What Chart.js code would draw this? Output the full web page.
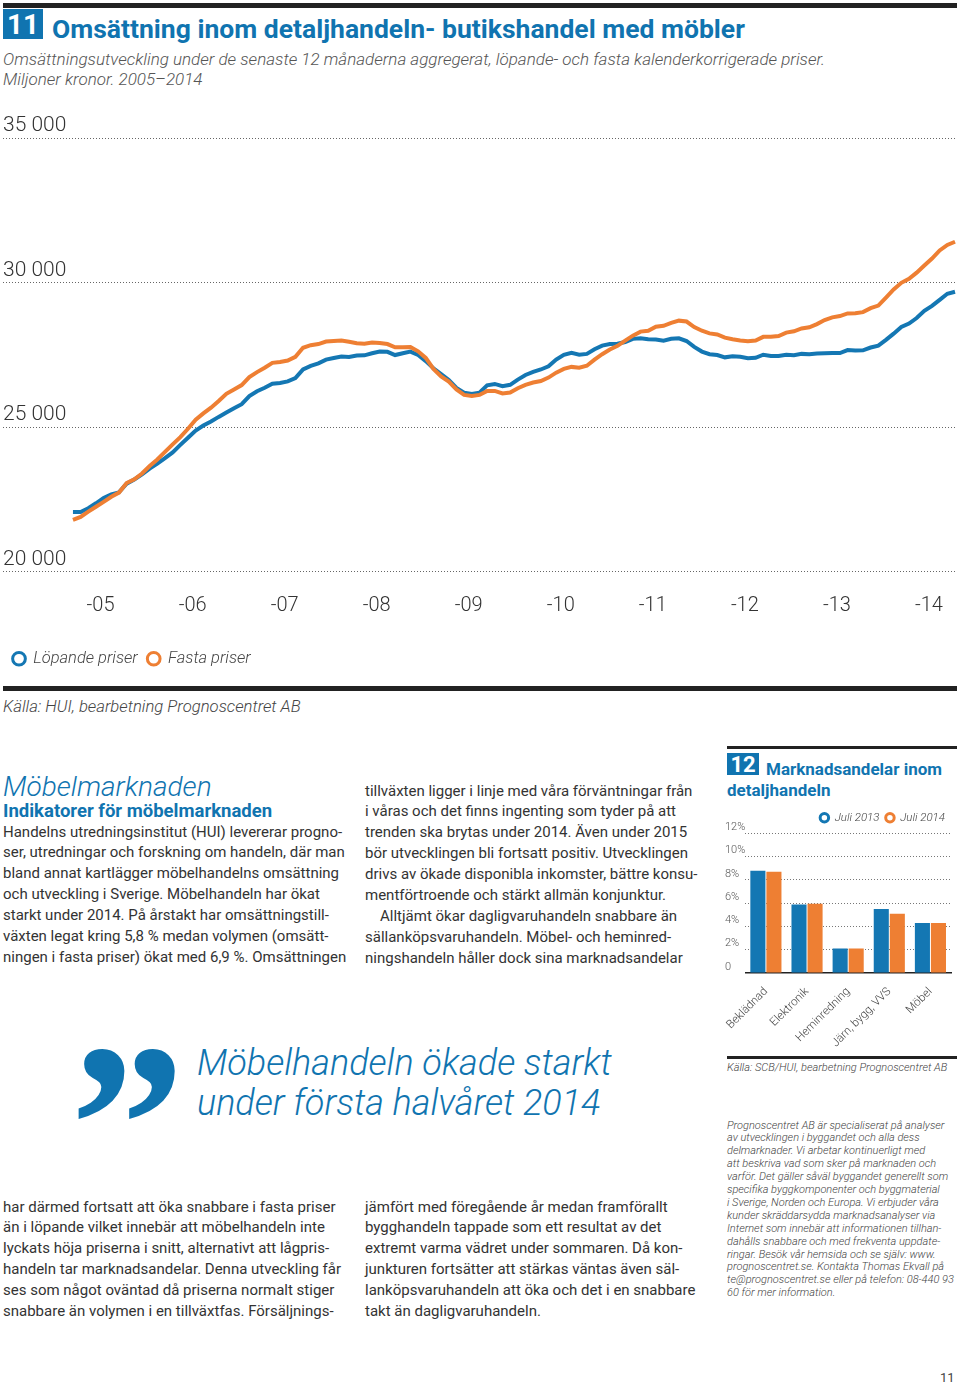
<!DOCTYPE html>
<html lang="sv">
<head>
<meta charset="utf-8">
<script src="https://cdn.jsdelivr.net/npm/chart.js@4.4.1/dist/chart.umd.min.js"></script>
<style>
body { margin: 0; background: #fff; }
#page { position: relative; width: 960px; height: 1384px; overflow: hidden; font-family: Roboto, "Open Sans", sans-serif; color: #333; }
.abs { position: absolute; white-space: nowrap; }
.rule { position: absolute; background: #222; }
.blue { color: #1074B0; }
.body { font-size: 15px; line-height: 20.9px; }
.it { font-style: italic; font-weight: 300; }
.box { position: absolute; background: #1074B0; color: #fff; font-weight: 700; text-align: center; }
</style>
</head>
<body>
<div id="page">

    <div class="rule" style="left:3px;top:3px;width:954px;height:5px"></div>
    <div class="box" style="left:3px;top:9px;width:40px;height:30px;font-size:28px;line-height:31px">11</div>
    <div class="abs blue" style="left:52px;top:14px;font-size:26.5px;line-height:30px;font-weight:700">Omsättning inom detaljhandeln- butikshandel med möbler</div>
    <div class="abs it" style="left:3px;top:49px;font-size:17px;line-height:20px;color:#555">Omsättningsutveckling under de senaste 12 månaderna aggregerat, löpande- och fasta kalenderkorrigerade priser.<br>Miljoner kronor. 2005–2014</div>

    <canvas id="chartOms" width="960" height="580" style="position:absolute;left:0;top:100px"></canvas>

    <div class="rule" style="left:3px;top:686px;width:954px;height:5px"></div>
    <div class="abs it" style="left:3px;top:697px;font-size:16.7px;line-height:20px;color:#444">Källa: HUI, bearbetning Prognoscentret AB</div>

    <div class="abs it blue" style="left:3px;top:771px;font-size:28px;line-height:32px">Möbelmarknaden</div>
    <div class="abs blue" style="left:3px;top:800px;font-size:18.5px;line-height:22px;font-weight:700">Indikatorer för möbelmarknaden</div>
    <div class="abs body" style="left:3px;top:821.5px">Handelns utredningsinstitut (HUI) levererar progno-<br>ser, utredningar och forskning om handeln, där man<br>bland annat kartlägger möbelhandelns omsättning<br>och utveckling i Sverige. Möbelhandeln har ökat<br>starkt under 2014. På årstakt har omsättningstill-<br>växten legat kring 5,8 % medan volymen (omsätt-<br>ningen i fasta priser) ökat med 6,9 %. Omsättningen</div>
    <div class="abs body" style="left:365px;top:780.5px">tillväxten ligger i linje med våra förväntningar från<br>i våras och det finns ingenting som tyder på att<br>trenden ska brytas under 2014. Även under 2015<br>bör utvecklingen bli fortsatt positiv. Utvecklingen<br>drivs av ökade disponibla inkomster, bättre konsu-<br>mentförtroende och stärkt allmän konjunktur.<br><span style="padding-left:15px">Alltjämt ökar dagligvaruhandeln snabbare än</span><br>sällanköpsvaruhandeln. Möbel- och heminred-<br>ningshandeln håller dock sina marknadsandelar</div>

    <div class="rule" style="left:727px;top:746px;width:230px;height:3px"></div>
    <div class="box" style="left:727px;top:753px;width:32px;height:22px;font-size:22px;line-height:23px">12</div>
    <div class="abs blue" style="left:766px;top:758px;font-size:17px;line-height:22px;font-weight:700">Marknadsandelar inom</div>
    <div class="abs blue" style="left:727px;top:779px;font-size:17px;line-height:22px;font-weight:700">detaljhandeln</div>
    <canvas id="chartAndel" width="240" height="254" style="position:absolute;left:720px;top:800px"></canvas>
    <div class="rule" style="left:727px;top:1056px;width:230px;height:3px"></div>
    <div class="abs it" style="left:727px;top:1061px;font-size:11px;line-height:14px;color:#444">Källa: SCB/HUI, bearbetning Prognoscentret AB</div>

    <div class="abs blue" style="left:70px;top:1011px;font-family:'Liberation Serif',serif;font-weight:700;font-size:230px;line-height:230px">”</div>
    <div class="abs it blue" style="left:197px;top:1043px;font-size:36px;line-height:40px">Möbelhandeln ökade starkt<br>under första halvåret 2014</div>

    <div class="abs body" style="left:3px;top:1196.5px">har därmed fortsatt att öka snabbare i fasta priser<br>än i löpande vilket innebär att möbelhandeln inte<br>lyckats höja priserna i snitt, alternativt att lågpris-<br>handeln tar marknadsandelar. Denna utveckling får<br>ses som något oväntad då priserna normalt stiger<br>snabbare än volymen i en tillväxtfas. Försäljnings-</div>
    <div class="abs body" style="left:365px;top:1196.5px">jämfört med föregående år medan framförallt<br>bygghandeln tappade som ett resultat av det<br>extremt varma vädret under sommaren. Då kon-<br>junkturen fortsätter att stärkas väntas även säl-<br>lanköpsvaruhandeln att öka och det i en snabbare<br>takt än dagligvaruhandeln.</div>

    <div class="abs it" style="left:727px;top:1119.5px;font-size:11px;line-height:12.9px;color:#444">Prognoscentret AB är specialiserat på analyser<br>av utvecklingen i byggandet och alla dess<br>delmarknader. Vi arbetar kontinuerligt med<br>att beskriva vad som sker på marknaden och<br>varför. Det gäller såväl byggandet generellt som<br>specifika byggkomponenter och byggmaterial<br>i Sverige, Norden och Europa. Vi erbjuder våra<br>kunder skräddarsydda marknadsanalyser via<br>Internet som innebär att informationen tillhan-<br>dahålls snabbare och med frekventa uppdate-<br>ringar. Besök vår hemsida och se själv: www.<br>prognoscentret.se. Kontakta Thomas Ekvall på<br>te@prognoscentret.se eller på telefon: 08-440 93<br>60 för mer information.</div>

    <div class="abs" style="left:940px;top:1370px;font-size:13px;line-height:16px;color:#444">11</div>
</div>

<script>
/* ---- diagram 11: omsättning, miljoner kronor, rullande 12 mån ---- */

const years = [2005, 2006, 2007, 2008, 2009, 2010, 2011, 2012, 2013, 2014];

// första månaden i serien, i decimalår
const startYear = 2004.7;

const lopandePriser = [
    22055, 22055, 22190, 22360, 22540, 22670, 22740, 23040, 23185, 23360,
    23560, 23730, 23920, 24120, 24380, 24630, 24880, 25050, 25190, 25350,
    25500, 25650, 25790, 26070, 26235, 26360, 26500, 26525, 26580, 26690,
    26990, 27115, 27200, 27330, 27390, 27440, 27420, 27470, 27480, 27550,
    27610, 27600, 27490, 27550, 27610, 27490, 27280, 27030, 26830, 26630,
    26350, 26190, 26140, 26190, 26440, 26490, 26410, 26460, 26640, 26800,
    26910, 26990, 27100, 27335, 27500, 27570, 27500, 27530, 27690, 27815,
    27870, 27880, 27940, 28050, 28070, 28035, 28030, 27985, 28050, 28070,
    27975, 27770, 27610, 27520, 27490, 27410, 27445, 27430, 27380, 27395,
    27500, 27460, 27455, 27500, 27485, 27530, 27515, 27540, 27550, 27560,
    27560, 27660, 27650, 27655, 27750, 27815, 28015, 28230, 28460, 28580,
    28770, 29020, 29190, 29400, 29610, 29680
];

const fastaPriser = [
    21790, 21890, 22070, 22240, 22410, 22585, 22730, 23060, 23190, 23390,
    23650, 23875, 24140, 24400, 24650, 24940, 25250, 25470, 25670, 25900,
    26150, 26300, 26450, 26730, 26900, 27050, 27220, 27250, 27300, 27430,
    27740, 27830, 27870, 27955, 27975, 27995, 27950, 27900, 27880, 27920,
    27910, 27870, 27760, 27760, 27770, 27620, 27390, 27010, 26750, 26570,
    26300, 26110, 26070, 26110, 26250, 26250, 26160, 26190, 26340, 26460,
    26540, 26590, 26710, 26880, 27010, 27080, 27050, 27120, 27330, 27520,
    27680, 27810, 27990, 28160, 28300, 28330, 28470, 28500, 28600, 28680,
    28650, 28460, 28330, 28240, 28200, 28090, 28035, 27995, 27965, 27995,
    28120, 28120, 28150, 28265, 28310, 28410, 28450, 28560, 28700, 28795,
    28840, 28930, 28940, 28975, 29110, 29200, 29480, 29760, 29990, 30130,
    30340, 30590, 30830, 31110, 31300, 31410
];

/* ---- diagram 12: marknadsandelar ---- */

const branscher = ["Beklädnad", "Elektronik", "Heminredning", "Järn, bygg, VVS", "Möbel"];
const andelJuli2013 = [8.8, 5.9, 2.1, 5.5, 4.3];
const andelJuli2014 = [8.7, 5.95, 2.1, 5.1, 4.3];

const BLUE = "#1477B3";
const ORANGE = "#EE7F33";
const FONT = "Roboto, 'Open Sans', sans-serif";

function toPoints(values) {
    return values.map((v, i) => ({ x: startYear + i / 12, y: v }));
}

function ringLegend(items) {
    return () => items.map(it => ({
        text: it.text,
        fillStyle: "#fff",
        strokeStyle: it.color,
        lineWidth: 3,
        pointStyle: "circle",
        fontColor: "#444"
    }));
}

function buildOmsChart() {

    const ctx = document.getElementById("chartOms").getContext("2d");

    new Chart(ctx, {
        type: "line",
        data: {
            datasets: [{
                label: "Löpande priser",
                data: toPoints(lopandePriser),
                borderColor: BLUE,
                borderWidth: 4,
                pointRadius: 0,
                tension: 0,
                order: 1
            }, {
                label: "Fasta priser",
                data: toPoints(fastaPriser),
                borderColor: ORANGE,
                borderWidth: 4,
                pointRadius: 0,
                tension: 0,
                order: 0
            }]
        },
        options: {
            responsive: false,
            animation: false,
            layout: { padding: { left: 3, right: 3, top: 38, bottom: 3 } },
            plugins: {
                tooltip: { enabled: false },
                legend: {
                    position: "bottom",
                    align: "start",
                    labels: {
                        usePointStyle: true,
                        boxWidth: 12,
                        boxHeight: 9,
                        padding: 10,
                        font: { family: FONT, size: 16.5, style: "italic", weight: 300 },
                        color: "#444",
                        generateLabels: ringLegend([
                            { text: "Löpande priser", color: BLUE },
                            { text: "Fasta priser", color: ORANGE }
                        ])
                    }
                }
            },
            scales: {
                x: {
                    type: "linear",
                    min: 2003.94,
                    max: 2014.305,
                    afterBuildTicks: scale => {
                        scale.ticks = years.map(y => ({ value: y }));
                    },
                    afterFit: scale => {
                        scale.height += 9;
                    },
                    ticks: {
                        autoSkip: false,
                        maxRotation: 0,
                        padding: 14,
                        color: "#333",
                        font: { family: FONT, size: 20, weight: 300 },
                        callback: v => "-" + String(v).slice(2)
                    },
                    grid: { display: false },
                    border: { display: false }
                },
                y: {
                    min: 20000,
                    max: 35000,
                    ticks: {
                        stepSize: 5000,
                        mirror: true,
                        padding: 0,
                        labelOffset: -12,
                        color: "#333",
                        font: { family: FONT, size: 21, weight: 300 },
                        callback: v => String(v).replace(/\B(?=(\d{3})+$)/g, " ")
                    },
                    grid: { color: "#666", lineWidth: 1, drawTicks: false },
                    border: { display: false, dash: [1, 2] }
                }
            }
        }
    });

}

function buildAndelChart() {

    const ctx = document.getElementById("chartAndel").getContext("2d");

    new Chart(ctx, {
        type: "bar",
        data: {
            labels: branscher,
            datasets: [{
                label: "Juli 2013",
                data: andelJuli2013,
                backgroundColor: BLUE
            }, {
                label: "Juli 2014",
                data: andelJuli2014,
                backgroundColor: ORANGE
            }]
        },
        options: {
            responsive: false,
            animation: false,
            layout: { padding: { left: 5, right: 9, top: 6, bottom: 0 } },
            datasets: {
                bar: { categoryPercentage: 0.78, barPercentage: 0.94 }
            },
            plugins: {
                tooltip: { enabled: false },
                legend: {
                    position: "top",
                    align: "end",
                    labels: {
                        usePointStyle: true,
                        boxWidth: 9,
                        boxHeight: 6,
                        padding: 6,
                        font: { family: FONT, size: 11.5, style: "italic", weight: 300 },
                        color: "#444",
                        generateLabels: ringLegend([
                            { text: "Juli 2013", color: BLUE },
                            { text: "Juli 2014", color: ORANGE }
                        ])
                    }
                }
            },
            scales: {
                x: {
                    ticks: {
                        autoSkip: false,
                        minRotation: 45,
                        maxRotation: 45,
                        padding: 4,
                        color: "#444",
                        font: { family: FONT, size: 11.5, weight: 300 }
                    },
                    grid: { display: false },
                    border: { display: true, color: "#222", width: 1.5 }
                },
                y: {
                    min: 0,
                    max: 12,
                    ticks: {
                        stepSize: 2,
                        crossAlign: "far",
                        padding: 0,
                        labelOffset: -6,
                        color: "#555",
                        font: { family: FONT, size: 11, weight: 300 },
                        callback: v => v === 0 ? "0" : v + "%"
                    },
                    grid: { color: "#777", lineWidth: 1, drawTicks: false },
                    border: { display: false, dash: [1, 2] }
                }
            }
        }
    });

}

buildOmsChart();
buildAndelChart();
</script>
</body>
</html>
